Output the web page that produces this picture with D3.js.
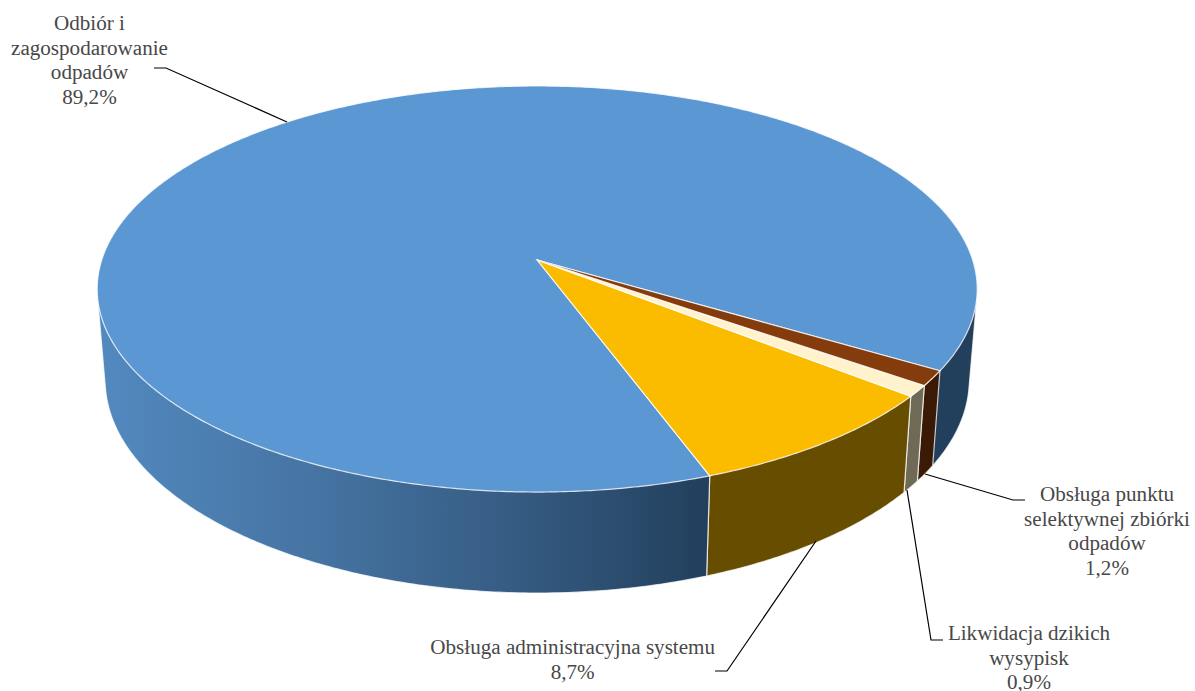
<!DOCTYPE html>
<html lang="pl">
<head>
    <meta charset="UTF-8">
    <title>Struktura kosztów systemu</title>
    <script src="https://d3js.org/d3.v7.min.js"></script>
    <style>
        html, body { margin: 0; padding: 0; background: #fff; }
        svg { display: block; }
        text { font-family: "Liberation Serif", serif; font-size: 21.1px; fill: #484848; text-anchor: middle; }
    </style>
</head>
<body>
    <div id="chart"></div>
    <script>
        // Chart values, in drawing order (clockwise from the brown slice)
        const categories = [
            ["Obsługa punktu", "selektywnej zbiórki", "odpadów"],
            ["Likwidacja dzikich", "wysypisk"],
            ["Obsługa administracyjna systemu"],
            ["Odbiór i", "zagospodarowanie", "odpadów"]
        ];
        const values = [1.2, 0.9, 8.7, 89.2];
        const valueLabels = ["1,2%", "0,9%", "8,7%", "89,2%"];
        const topColors = ["#843C0C", "#FFF2CC", "#FBBC00", "#5B97D2"];
        const sideColors = ["#3A1A05", "#6F6A56", "#674D00", "url(#blueSide)"];

        const width = 1195, height = 691;
        const svg = d3.select("#chart").append("svg")
            .attr("width", width)
            .attr("height", height);

        // Perspective of the pie's top face
        const cx = 537.2, cy = 260, a = 435.5, b = 198.9, p = 1 / 7;
        const topRim = t => {
            const u = Math.cos(t), v = Math.sin(t), w = 1 - p * v;
            return [cx + a * u / w, cy + b * v / w];
        };
        // Bottom rim is the top rim pushed down and slightly narrowed
        const bottomRim = t => {
            const q = topRim(t);
            return [cx + (q[0] - cx) * 0.982, q[1] * 1.05 + 76.4];
        };

        const deg = Math.PI / 180;
        const pie = d3.pie().sort(null)
            .startAngle(121.06 * deg)
            .endAngle(121.06 * deg + 2 * Math.PI);
        // d3.pie measures from 12 o'clock, rim angles from 3 o'clock
        const slices = pie(values).map(d => ({
            ...d,
            t0: d.startAngle - Math.PI / 2,
            t1: d.endAngle - Math.PI / 2
        }));

        const rimAngles = (t0, t1) => {
            const n = Math.max(2, Math.ceil((t1 - t0) / (0.5 * deg)));
            return d3.range(n + 1).map(i => t0 + (t1 - t0) * i / n);
        };
        const line = d3.line().curve(d3.curveLinearClosed);

        // Shading of the blue wall, light on the left, dark towards the yellow slice
        const grad = svg.append("defs").append("linearGradient")
            .attr("id", "blueSide")
            .attr("gradientUnits", "userSpaceOnUse")
            .attr("x1", 100).attr("x2", 710).attr("y1", 0).attr("y2", 0);
        grad.append("stop").attr("offset", "0%").attr("stop-color", "#5289BF");
        grad.append("stop").attr("offset", "35%").attr("stop-color", "#4674A3");
        grad.append("stop").attr("offset", "70%").attr("stop-color", "#345A80");
        grad.append("stop").attr("offset", "100%").attr("stop-color", "#223F5C");

        // Wall pieces, back to front
        const blue = slices[3];
        const walls = [
            { t0: blue.t1 - 50 * deg, t1: blue.t1, fill: "#223F5C" },
            { t0: slices[0].t0, t1: slices[0].t1, fill: sideColors[0] },
            { t0: slices[1].t0, t1: slices[1].t1, fill: sideColors[1] },
            { t0: slices[2].t0, t1: slices[2].t1, fill: sideColors[2] },
            { t0: blue.t0, t1: blue.t0 + 130 * deg, fill: sideColors[3] }
        ];

        svg.append("g").selectAll("path")
            .data(walls)
            .enter().append("path")
            .attr("d", d => {
                const ts = rimAngles(d.t0, d.t1);
                return line(d3.polygonHull(ts.map(topRim).concat(ts.map(bottomRim))));
            })
            .attr("fill", d => d.fill)
            .attr("stroke", "#fff")
            .attr("stroke-opacity", 0.75)
            .attr("stroke-width", 1.2);

        // Top face, biggest slice first so the small ones sit on it
        svg.append("g").selectAll("path")
            .data(slices.slice().reverse())
            .enter().append("path")
            .attr("d", d => line([[cx, cy]].concat(rimAngles(d.t0, d.t1).map(topRim))))
            .attr("fill", d => topColors[d.index])
            .attr("stroke", "#fff")
            .attr("stroke-opacity", 0.8)
            .attr("stroke-width", 1.2);

        // Leader lines
        const leaders = [
            [[925, 474], [1013, 500], [1025, 500]],
            [[907, 490], [931, 640], [943, 640]],
            [[816, 541], [727, 671], [715, 671]],
            [[287, 122], [166, 68], [154, 68]]
        ];
        svg.append("g").selectAll("path")
            .data(leaders)
            .enter().append("path")
            .attr("d", d3.line())
            .attr("fill", "none")
            .attr("stroke", "#000")
            .attr("stroke-width", 1.2);

        // Labels: category lines followed by the share
        const labelPlaces = [
            { x: 1107, y: 501 },
            { x: 1029, y: 640 },
            { x: 572.7, y: 654 },
            { x: 89.5, y: 30 }
        ];
        const labels = svg.append("g").selectAll("text")
            .data(categories)
            .enter().append("text")
            .attr("x", (d, i) => labelPlaces[i].x)
            .attr("y", (d, i) => labelPlaces[i].y);
        labels.selectAll("tspan")
            .data((d, i) => d.concat(valueLabels[i]).map(s => ({ s, x: labelPlaces[i].x })))
            .enter().append("tspan")
            .attr("x", d => d.x)
            .attr("dy", (d, i) => i ? 24.5 : 0)
            .text(d => d.s);
    </script>
</body>
</html>
